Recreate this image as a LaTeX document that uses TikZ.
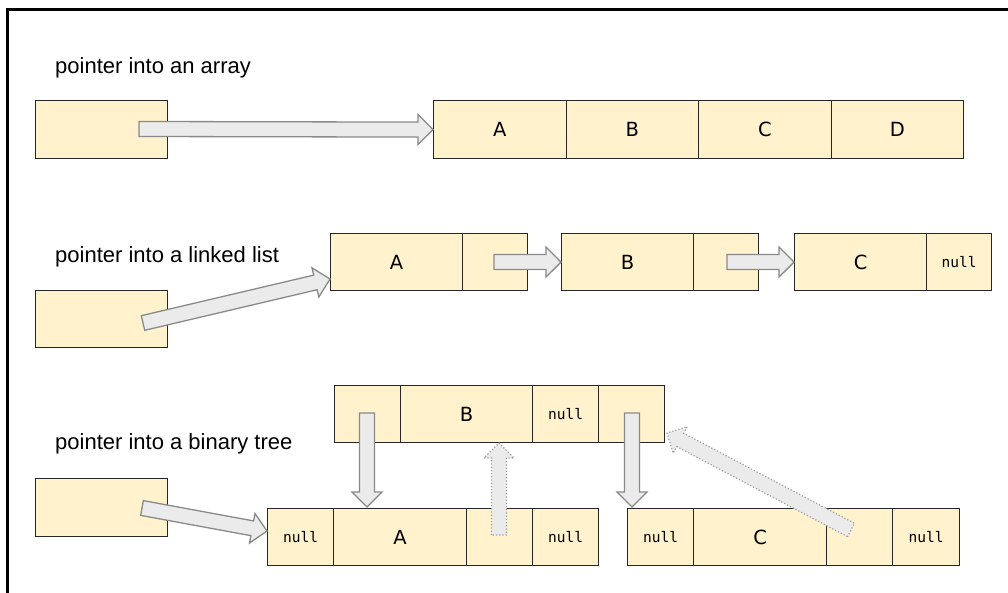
\documentclass[tikz,border=0pt]{standalone}
\usepackage{fontspec}
\setmainfont{Liberation Sans}
\newfontfamily\cellfont{DejaVu Sans}
\newfontfamily\nilfont{DejaVu Sans Mono}
\usetikzlibrary{calc}
\definecolor{boxfill}{HTML}{FFF2CC}
\definecolor{arrfill}{HTML}{EBEBEB}
\definecolor{arrline}{HTML}{8A8A8A}
\tikzset{
  cell/.style={draw=black!85, fill=boxfill, line width=1.2pt, inner sep=0pt, anchor=north west,
    minimum height=57.5pt, font=\cellfont\fontsize{19.5}{22}\selectfont},
  nullcell/.style={cell, font=\nilfont\fontsize{14.5}{16}\selectfont},
  rowlabel/.style={anchor=base west, inner sep=0pt, font=\fontsize{22}{25}\selectfont},
  blk/.style={draw=arrline, fill=arrfill, line width=1.3pt, line join=miter},
  blkdot/.style={draw=arrline!85, fill=arrfill, line width=1.2pt, dotted, line join=miter},
}
\newcommand{\blkarr}[3]{%
  \coordinate (bh) at ($(#3)!15pt!(#2)$);
  \path[#1] ($(#2)!7.5pt!90:(#3)$) -- ($(bh)!7.5pt!90:(#3)$) -- ($(bh)!15pt!90:(#3)$) -- (#3)
    -- ($(bh)!15pt!-90:(#3)$) -- ($(bh)!7.5pt!-90:(#3)$) -- ($(#2)!7.5pt!-90:(#3)$) -- cycle;}
\begin{document}
\begin{tikzpicture}[x=1pt,y=-1pt]
\useasboundingbox (0,0) rectangle (1008,593);
\fill[white] (0,0) rectangle (1008,593);
\draw[line width=3pt] (7,593) -- (7,10) -- (1008,10);

% row 1: array
\node[rowlabel] (t1) at (55,74) {pointer into an array};
\node[cell, minimum width=132pt, minimum height=58pt] (p1) at (35,100) {};
\node[cell, minimum width=132.5pt, minimum height=58pt] (a1) at (433,100) {A};
\node[cell, minimum width=132.5pt, minimum height=58pt] (a2) at (565.5,100) {B};
\node[cell, minimum width=132.5pt, minimum height=58pt] (a3) at (698,100) {C};
\node[cell, minimum width=132.5pt, minimum height=58pt] (a4) at (830.5,100) {D};

% row 2: linked list
\node[rowlabel] (t2) at (55,263) {pointer into a linked list};
\node[cell, minimum width=132pt, minimum height=57pt] (p2) at (35,290) {};
\node[cell, minimum width=132pt, minimum height=57pt] (lA) at (330,233) {A};
\node[cell, minimum width=65pt, minimum height=57pt] (lAn) at (462,233) {};
\node[cell, minimum width=132pt, minimum height=57pt] (lB) at (561,233) {B};
\node[cell, minimum width=65pt, minimum height=57pt] (lBn) at (693,233) {};
\node[cell, minimum width=132pt, minimum height=57pt] (lC) at (794,233) {C};
\node[nullcell, minimum width=65pt, minimum height=57pt] (lCn) at (926,233) {null};

% row 3: binary tree
\node[rowlabel] (t3) at (55,449) {pointer into a binary tree};
\node[cell, minimum width=132pt, minimum height=58pt] (p3) at (35,478) {};
% B
\node[cell, minimum width=66pt, minimum height=57pt] (bL) at (334,385) {};
\node[cell, minimum width=132pt, minimum height=57pt] (bV) at (400,385) {B};
\node[nullcell, minimum width=66pt, minimum height=57pt] (bP) at (532,385) {null};
\node[cell, minimum width=66pt, minimum height=57pt] (bR) at (598,385) {};
% A
\node[nullcell, minimum width=66pt, minimum height=57pt] (aL) at (267,508) {null};
\node[cell, minimum width=133pt, minimum height=57pt] (aV) at (333,508) {A};
\node[cell, minimum width=66pt, minimum height=57pt] (aP) at (466,508) {};
\node[nullcell, minimum width=66pt, minimum height=57pt] (aR) at (532,508) {null};
% C
\node[nullcell, minimum width=66pt, minimum height=57pt] (cL) at (627,508) {null};
\node[cell, minimum width=133pt, minimum height=57pt] (cV) at (693,508) {C};
\node[cell, minimum width=66pt, minimum height=57pt] (cP) at (826,508) {};
\node[nullcell, minimum width=67pt, minimum height=57pt] (cR) at (892,508) {null};

% arrow ends
\coordinate (s1) at (139,129);
\coordinate (s2) at (143,323);
\coordinate (e2) at (330,279);
\coordinate (s3) at (494,262);
\coordinate (s4) at (727,262);
\coordinate (s5) at (142,508);
\coordinate (e5) at (267,531);
\coordinate (s6) at (367,413);
\coordinate (e6) at (367,507);
\coordinate (s7) at (632,413);
\coordinate (e7) at (632,507);
\coordinate (s8) at (499,535);
\coordinate (e8) at (499,443);
\coordinate (s9) at (851,530);
\coordinate (e9) at (667,433);

\blkarr{blk}{s1}{a1.west}
\blkarr{blk}{s2}{e2}
\blkarr{blk}{s3}{lB.west}
\blkarr{blk}{s4}{lC.west}
\blkarr{blk}{s5}{e5}
\blkarr{blk}{s6}{e6}
\blkarr{blk}{s7}{e7}
\blkarr{blkdot}{s8}{e8}
\blkarr{blkdot}{s9}{e9}
\end{tikzpicture}
\end{document}
